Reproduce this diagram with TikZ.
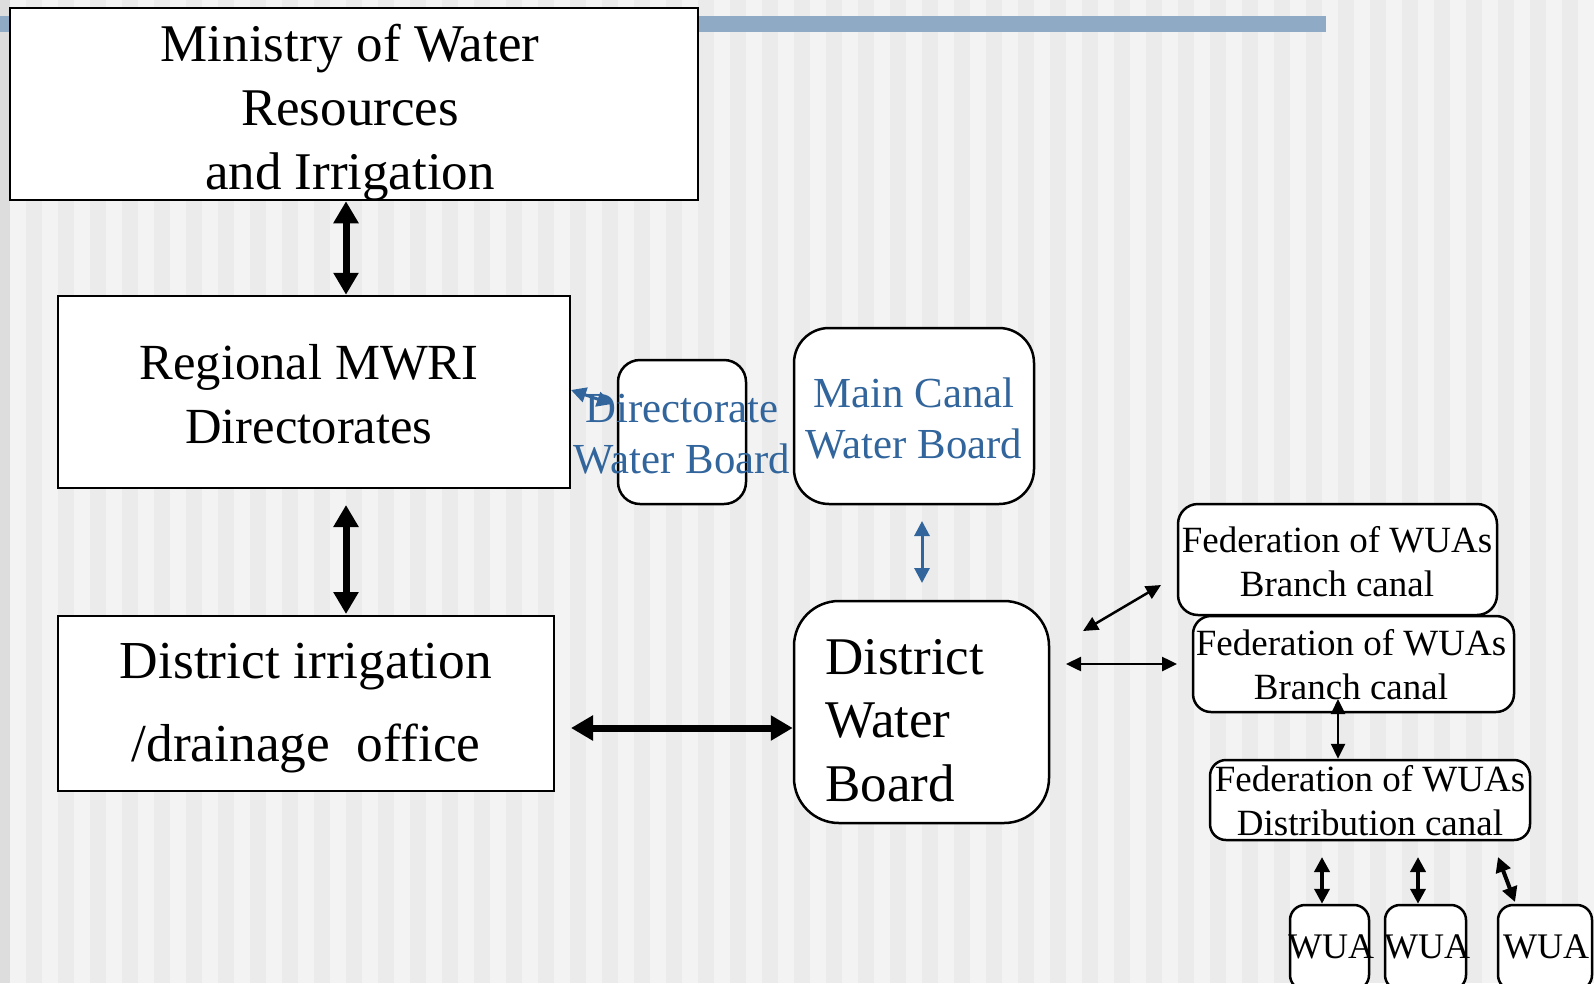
\documentclass[tikz,border=0pt]{standalone}
\usepackage{fontspec}
\setmainfont{Liberation Serif}
\usetikzlibrary{arrows.meta}
\definecolor{bgA}{RGB}{243,243,243}
\definecolor{bgB}{RGB}{235,235,235}
\definecolor{bgL}{RGB}{221,221,221}
\definecolor{barblue}{RGB}{143,170,196}
\definecolor{txtblue}{RGB}{49,101,156}
\begin{document}
\begin{tikzpicture}[x=1pt,y=-1pt,
  box/.style={draw=black,line width=2.5pt,fill=white,inner sep=0pt},
  rbox/.style={box,rounded corners=#1},
  txt/.style={inner sep=0pt,align=center},
  bigarrow/.style={line width=7pt,{Triangle[width=24pt,length=22pt]}-{Triangle[width=24pt,length=22pt]}},
  bluearrow/.style={line width=3pt,draw=txtblue,{Triangle[width=15pt,length=15pt]}-{Triangle[width=15pt,length=15pt]}},
  smallarrow/.style={line width=2.5pt,{Triangle[width=14pt,length=15pt]}-{Triangle[width=14pt,length=15pt]}},
  wuaarrow/.style={line width=4pt,{Triangle[width=15pt,length=15pt]}-{Triangle[width=15pt,length=15pt]}}]
\useasboundingbox (0,0) rectangle (1594,983);
% background
\fill[bgA] (0,0) rectangle (1594,983);
\foreach \i in {0,...,49} \fill[bgB] ({26+32*\i},0) rectangle ({42+32*\i},983);
\fill[bgL] (0,0) rectangle (10,983);
\fill[barblue] (0,16) rectangle (1326,32);

% boxes
\node[box,minimum width=688pt,minimum height=192pt] (min) at (354,104) {};
\node[box,minimum width=512pt,minimum height=192pt] (reg) at (314,392) {};
\node[box,minimum width=496pt,minimum height=175pt] (irr) at (306,703.5) {};
\node[rbox=22pt,minimum width=128pt,minimum height=144pt] (dir) at (682,432) {};
\node[rbox=35pt,minimum width=240pt,minimum height=176pt] (mcw) at (914,416) {};
\node[rbox=45pt,minimum width=255pt,minimum height=222pt] (dwb) at (921.5,712) {};
\node[rbox=20pt,minimum width=319pt,minimum height=111pt] (f1) at (1337.5,559.5) {};
\node[rbox=18pt,minimum width=321pt,minimum height=96pt] (f2) at (1353.5,664) {};
\node[rbox=16pt,minimum width=320pt,minimum height=80pt] (f3) at (1370,800) {};
\node[rbox=15pt,minimum width=79pt,minimum height=85pt] (w1) at (1329.5,947.5) {};
\node[rbox=15pt,minimum width=81pt,minimum height=85pt] (w2) at (1425.5,947.5) {};
\node[rbox=15pt,minimum width=94pt,minimum height=85pt] (w3) at (1545,947.5) {};

% texts
\node[txt,font=\fontsize{53}{64}\selectfont] (tmin) at (350,112.5) {Ministry of Water\\Resources\\and Irrigation};
\node[txt,font=\fontsize{50.6}{64}\selectfont] (treg) at (309,394) {Regional MWRI\\Directorates};
\node[txt,font=\fontsize{53.4}{83}\selectfont] (tirr) at (306,708.5) {District irrigation\\/drainage\ \ office};
\node[txt,text=txtblue,font=\fontsize{42.8}{51}\selectfont] (tdir) at (682,434) {Directorate\\Water Board};
\node[txt,text=txtblue,font=\fontsize{42.8}{51}\selectfont] (tmcw) at (914,418) {Main Canal\\Water Board};
\node[txt,align=left,anchor=west,font=\fontsize{53}{63.5}\selectfont] (tdwb) at (825,720.5) {District\\Water\\Board};
\node[txt,font=\fontsize{37}{44}\selectfont] (tf1) at (1337,561.7) {Federation of WUAs\\Branch canal};
\node[txt,font=\fontsize{37}{44}\selectfont] (tf2) at (1351,665) {Federation of WUAs\\Branch canal};
\node[txt,font=\fontsize{37}{44}\selectfont] (tf3) at (1370,801) {Federation of WUAs\\Distribution canal};
\node[txt,font=\fontsize{36}{40}\selectfont] (tw1) at (1331,947) {WUA};
\node[txt,font=\fontsize{36}{40}\selectfont] (tw2) at (1427,947) {WUA};
\node[txt,font=\fontsize{36}{40}\selectfont] (tw3) at (1546,947) {WUA};

% free ends of connectors
\coordinate (ra) at (346,505);
\coordinate (rb) at (346,614);
\coordinate (ia) at (571,728);
\coordinate (da) at (571,390);
\coordinate (db) at (612,404);
\coordinate (ma) at (922,521);
\coordinate (mb) at (922,583);
\coordinate (ga) at (1083,631);
\coordinate (gb) at (1161,585);
\coordinate (ha) at (1066,664);
\coordinate (hb) at (1177,664);
\coordinate (va) at (1338,699);
\coordinate (ka) at (1322,857);
\coordinate (kb) at (1418,857);
\coordinate (kc) at (1498,857);
\coordinate (kd) at (1515,902);

% connectors
\draw[bigarrow] (min.south -| 346,0) -- (reg.north -| 346,0);
\draw[bigarrow] (ra) -- (rb);
\draw[bigarrow] (ia) -- (dwb.west |- ia);
\draw[bluearrow] (da) -- (db);
\draw[bluearrow] (ma) -- (mb);
\draw[smallarrow] (ga) -- (gb);
\draw[smallarrow] (ha) -- (hb);
\draw[smallarrow] (va) -- (f3.north -| va);
\draw[wuaarrow] (ka) -- (w1.north -| ka);
\draw[wuaarrow] (kb) -- (w2.north -| kb);
\draw[wuaarrow] (kc) -- (kd);
\end{tikzpicture}
\end{document}
